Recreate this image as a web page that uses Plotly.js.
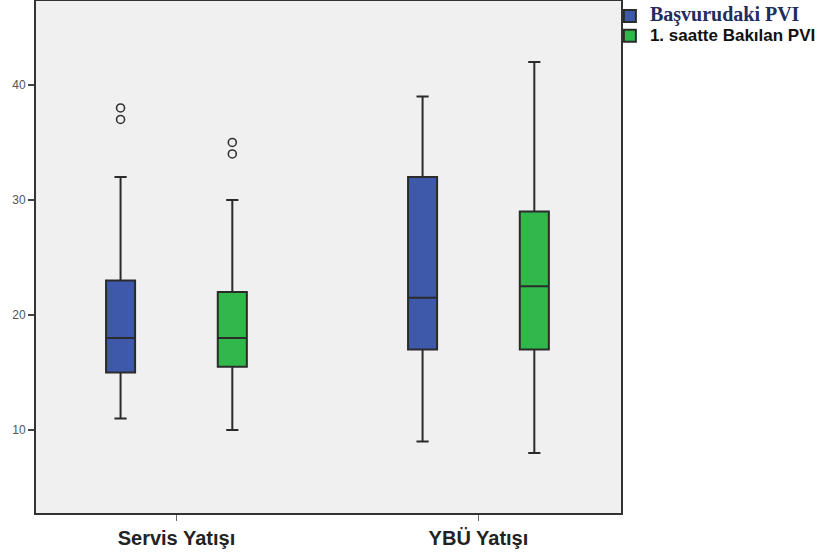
<!DOCTYPE html>
<html>
<head>
<meta charset="utf-8">
<script src="https://cdn.plot.ly/plotly-3.0.1.min.js"></script>
<style>html,body{margin:0;padding:0;background:#fff;}#chart{width:822px;height:553px;}</style>
</head>
<body>
<div id="chart"></div>
<script>
// Categories
const categories = ['Servis Yatışı', 'YBÜ Yatışı'];

// Series 1: Başvurudaki PVI
const s1Name = 'Başvurudaki PVI';
const s1Lower = [11, 9];
const s1Q1 = [15, 17];
const s1Median = [18, 21.5];
const s1Q3 = [23, 32];
const s1Upper = [32, 39];
const s1Outliers = [[37, 38], []];

// Series 2: 1. saatte Bakılan PVI
const s2Name = '1. saatte Bakılan PVI';
const s2Lower = [10, 8];
const s2Q1 = [15.5, 17];
const s2Median = [18, 22.5];
const s2Q3 = [22, 29];
const s2Upper = [30, 42];
const s2Outliers = [[34, 35], []];

const yTicks = [10, 20, 30, 40];

function boxTrace(label, lower, q1, med, q3, upper, outl, fill) {
  return {
    type: 'box',
    name: label,
    x: categories,
    y: outl,
    q1: q1, median: med, q3: q3,
    lowerfence: lower, upperfence: upper,
    boxpoints: 'outliers',
    pointpos: 0,
    jitter: 0,
    whiskerwidth: 0.42,
    fillcolor: fill,
    line: {color: '#2b2b2b', width: 2},
    marker: {symbol: 'circle-open', size: 8, color: '#333', line: {width: 1.6, color: '#333'}},
    hoverinfo: 'skip'
  };
}

const traces = [
  boxTrace('<span style="font-family:\'Liberation Serif\',serif;font-size:20px;font-weight:bold;fill:#1f2d5e">' + s1Name + '</span>',
    s1Lower, s1Q1, s1Median, s1Q3, s1Upper, s1Outliers, '#3e58aa'),
  boxTrace('<span style="font-size:17px;font-weight:bold">' + s2Name + '</span>',
    s2Lower, s2Q1, s2Median, s2Q3, s2Upper, s2Outliers, '#31b84a')
];

const layout = {
  width: 822, height: 553,
  margin: {l: 36, r: 199, t: 1, b: 40},
  paper_bgcolor: '#ffffff',
  plot_bgcolor: '#f0f0f0',
  boxmode: 'group',
  boxgap: 0.26,
  boxgroupgap: 0.74,
  showlegend: true,
  font: {family: '"Liberation Sans", Arial, sans-serif', color: '#222'},
  legend: {
    x: 0.981, xanchor: 'left', y: 1, yanchor: 'top',
    bgcolor: 'rgba(0,0,0,0)',
    font: {family: '"Liberation Sans", Arial, sans-serif', size: 13, color: '#111'},
    tracegroupgap: 0
  },
  xaxis: {
    type: 'category',
    range: [-0.465, 1.472],
    showgrid: false, zeroline: false,
    showline: true, mirror: true, linecolor: '#333', linewidth: 2,
    ticks: 'outside', ticklen: 6, tickwidth: 1.5, tickcolor: '#666',
    tickfont: {family: '"Liberation Sans", Arial, sans-serif', size: 20, color: '#222', weight: 'bold'},
    fixedrange: true
  },
  yaxis: {
    range: [2.78, 47.3],
    tickvals: yTicks,
    ticktext: yTicks.map(String),
    showgrid: false, zeroline: false,
    showline: true, mirror: true, linecolor: '#333', linewidth: 2,
    ticks: 'outside', ticklen: 6, tickwidth: 1.5, tickcolor: '#444',
    tickfont: {family: '"Liberation Sans", Arial, sans-serif', size: 12, color: '#555'},
    fixedrange: true
  }
};

Plotly.newPlot('chart', traces, layout, {displayModeBar: false, staticPlot: true});
</script>
</body>
</html>
